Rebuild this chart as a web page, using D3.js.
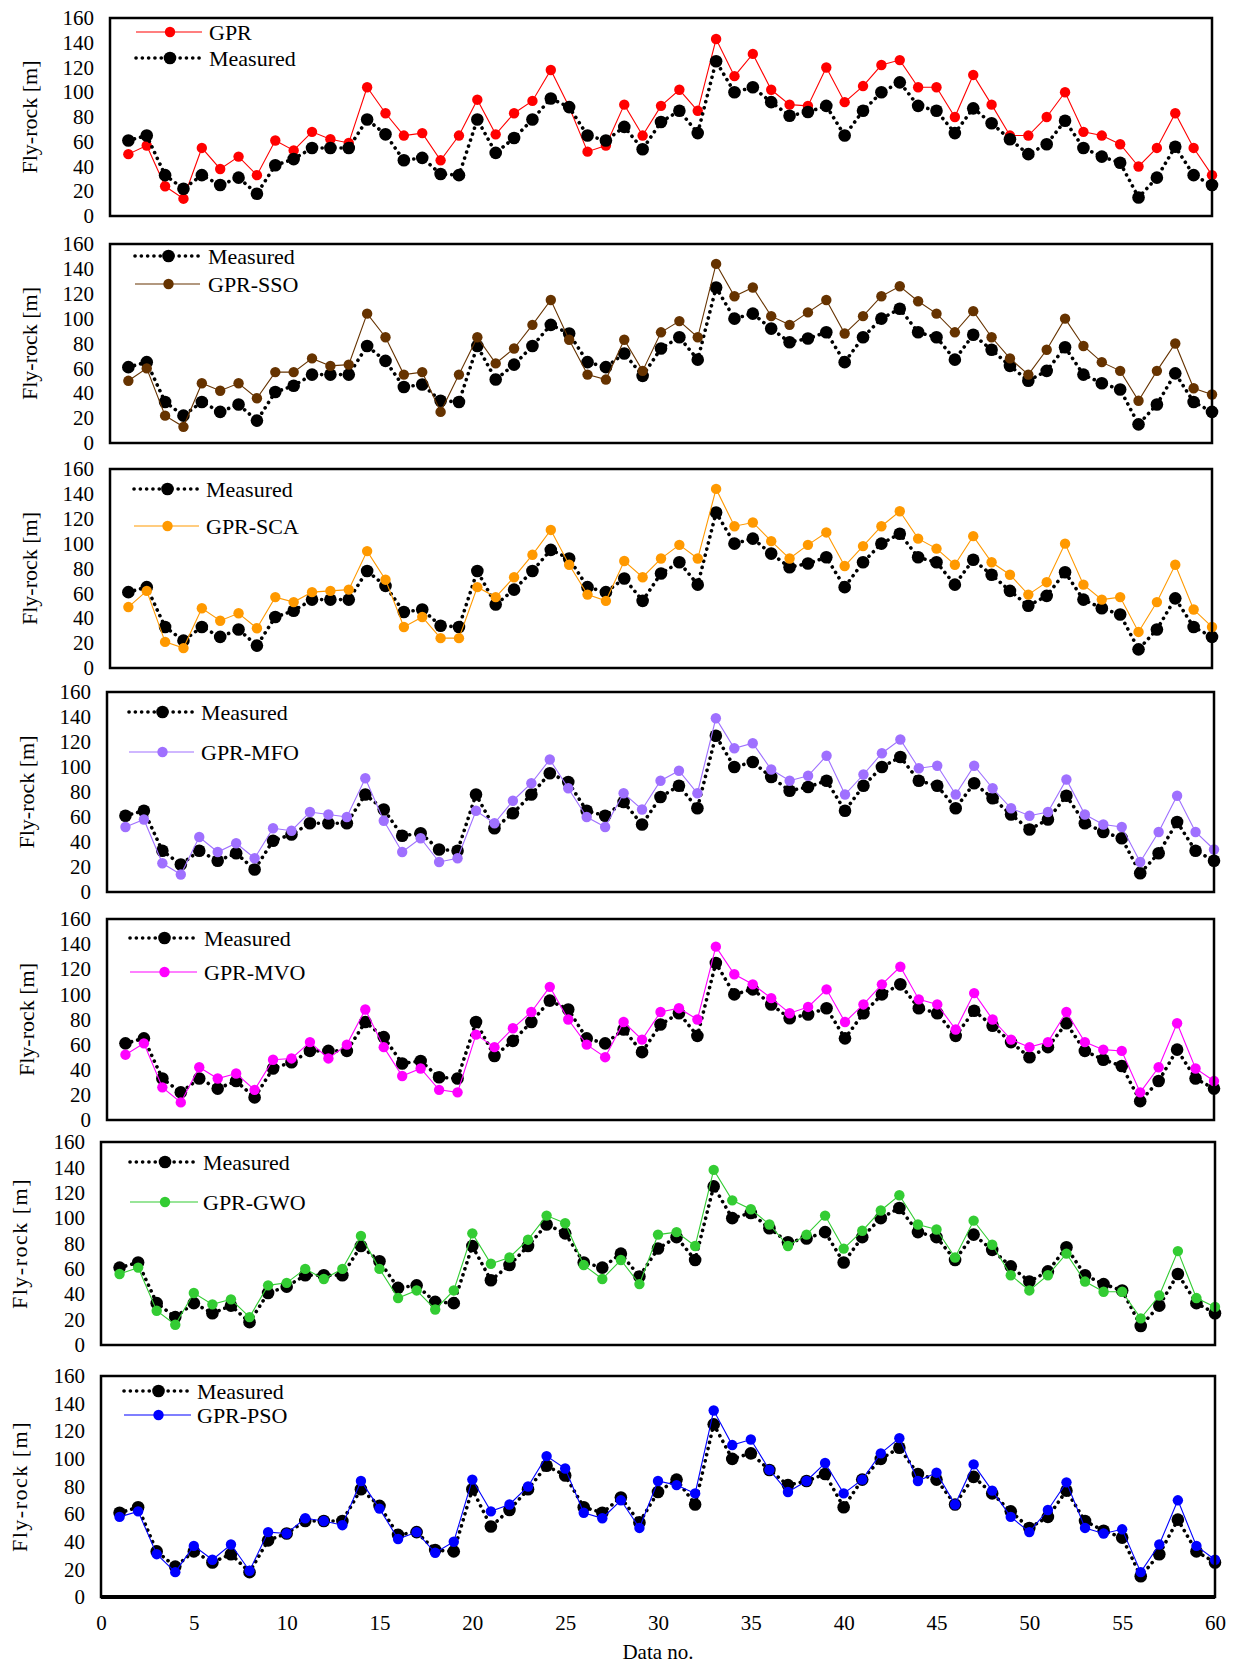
<!DOCTYPE html>
<html lang="en">

<head>
    <meta charset="utf-8">
    <title>Fly-rock: measured vs GPR models</title>
    <script type="text/javascript" src="https://cdn.jsdelivr.net/npm/d3@7/dist/d3.min.js"></script>
    <style type="text/css">
    body {
        margin: 0;
        background: #fff;
    }

    text {
        font-family: "Liberation Serif", "Times New Roman", serif;
        fill: #000;
    }

    .box {
        fill: none;
        stroke: #000;
        stroke-width: 2.5;
    }

    .measured-line {
        fill: none;
        stroke: #000;
        stroke-width: 3.6;
        stroke-linecap: round;
        stroke-dasharray: 0.1 6.2;
    }

    .model-line {
        fill: none;
        stroke-width: 1.1;
    }
    </style>
</head>

<body>
    <script type="text/javascript">
    //data
    var measured = [61, 65, 33, 22, 33, 25, 31, 18, 41, 46, 55, 55, 55, 78, 66, 45, 47, 34, 33, 78,
        51, 63, 78, 95, 88, 65, 61, 72, 54, 76, 85, 67, 125, 100, 104, 92, 81, 84, 89, 65,
        85, 100, 108, 89, 85, 67, 87, 75, 62, 50, 58, 77, 55, 48, 43, 15, 31, 56, 33, 25];

    var gpr = [50, 57, 24, 14, 55, 38, 48, 33, 61, 53, 68, 62, 59, 104, 83, 65, 67, 45, 65, 94,
        66, 83, 93, 118, 88, 52, 57, 90, 65, 89, 102, 85, 143, 113, 131, 102, 90, 89, 120, 92,
        105, 122, 126, 104, 104, 80, 114, 90, 65, 65, 80, 100, 68, 65, 58, 40, 55, 83, 55, 33];

    var gprSso = [50, 60, 22, 13, 48, 42, 48, 36, 57, 57, 68, 62, 63, 104, 85, 55, 57, 25, 55, 85,
        64, 76, 95, 115, 83, 55, 51, 83, 58, 89, 98, 85, 144, 118, 125, 102, 95, 105, 115, 88,
        102, 118, 126, 114, 104, 89, 106, 85, 68, 55, 75, 100, 78, 65, 58, 34, 58, 80, 44, 39];

    var gprSca = [49, 62, 21, 16, 48, 38, 44, 32, 57, 53, 61, 62, 63, 94, 71, 33, 41, 24, 24, 65,
        57, 73, 91, 111, 83, 59, 54, 86, 73, 88, 99, 88, 144, 114, 117, 102, 88, 99, 109, 82,
        98, 114, 126, 104, 96, 83, 106, 85, 75, 59, 69, 100, 67, 55, 57, 29, 53, 83, 47, 33];

    var gprMfo = [52, 58, 23, 14, 44, 32, 39, 27, 51, 49, 64, 62, 60, 91, 57, 32, 43, 24, 27, 65,
        55, 73, 87, 106, 83, 60, 52, 79, 66, 89, 97, 79, 139, 115, 119, 98, 89, 93, 109, 78,
        94, 111, 122, 99, 101, 78, 101, 83, 67, 61, 64, 90, 62, 54, 52, 24, 48, 77, 48, 34];

    var gprMvo = [52, 61, 26, 14, 42, 33, 37, 24, 48, 49, 62, 49, 60, 88, 58, 35, 41, 24, 22, 68,
        58, 73, 86, 106, 80, 60, 50, 78, 64, 86, 89, 80, 138, 116, 108, 97, 85, 90, 104, 78,
        92, 108, 122, 96, 92, 72, 101, 80, 64, 58, 62, 86, 62, 56, 55, 22, 42, 77, 41, 31];

    var gprGwo = [56, 61, 27, 16, 41, 32, 36, 22, 47, 49, 60, 52, 60, 86, 60, 37, 43, 28, 43, 88,
        64, 69, 83, 102, 96, 63, 52, 67, 48, 87, 89, 78, 138, 114, 107, 95, 78, 87, 102, 76,
        90, 106, 118, 95, 91, 69, 98, 79, 55, 43, 55, 72, 50, 42, 42, 21, 39, 74, 37, 30];

    var gprPso = [58, 62, 31, 18, 37, 27, 38, 19, 47, 46, 57, 55, 52, 84, 64, 42, 47, 32, 40, 85,
        62, 67, 80, 102, 93, 61, 57, 70, 50, 84, 81, 75, 135, 110, 114, 92, 76, 84, 97, 75,
        85, 104, 115, 84, 90, 67, 96, 77, 58, 47, 63, 83, 50, 46, 49, 18, 38, 70, 37, 27];

    var modelNames = ['GPR', 'GPR-SSO', 'GPR-SCA', 'GPR-MFO', 'GPR-MVO', 'GPR-GWO', 'GPR-PSO'];
    var modelSeries = [gpr, gprSso, gprSca, gprMfo, gprMvo, gprGwo, gprPso];
    var yTicks = [0, 20, 40, 60, 80, 100, 120, 140, 160];
    var xTicks = [0, 5, 10, 15, 20, 25, 30, 35, 40, 45, 50, 55, 60];

    //panel layout (pixels)
    var colors = ['#ff0000', '#663300', '#ff9900', '#9f70ff', '#ff00ff', '#33cc33', '#0000ff'];
    var boxes = [
        { l: 110, r: 1212, t: 18, b: 216, ty: 29, lg: [32, 58], lx: [136, 202, 209] },
        { l: 110, r: 1212, t: 244, b: 443, ty: 29, lg: [284, 256], lx: [135, 200, 208] },
        { l: 110, r: 1212, t: 469, b: 668, ty: 29, lg: [526, 489], lx: [134, 199, 206] },
        { l: 107, r: 1214, t: 692, b: 892, ty: 26, lg: [752, 712], lx: [129, 194, 201] },
        { l: 107, r: 1214, t: 919, b: 1120, ty: 26, lg: [972, 938], lx: [130, 197, 204] },
        { l: 101, r: 1215, t: 1142, b: 1345, ty: 19, lg: [1202, 1162], lx: [130, 198, 203] },
        { l: 101, r: 1215, t: 1376, b: 1597, ty: 19, lg: [1415, 1391], lx: [124, 191, 197] }
    ];

    var svg = d3.select('body')
        .append('svg')
        .attr('width', 1234)
        .attr('height', 1669);

    boxes.forEach(function(bx, p) {
        var x = d3.scaleLinear().domain([0, 60]).range([bx.l, bx.r]);
        var y = d3.scaleLinear().domain([0, 160]).range([bx.b, bx.t]);
        var g = svg.append('g');

        //left axis labels only
        var yAxis = d3.axisLeft(y).tickValues(yTicks).tickSize(0).tickPadding(16);
        g.append('g')
            .attr('transform', 'translate(' + bx.l + ',0)')
            .call(yAxis)
            .call(function(a) {
                a.select('.domain').remove();
                a.selectAll('text')
                    .attr('font-size', 21)
                    .attr('font-family', '"Liberation Serif", serif');
            });

        g.append('text')
            .attr('transform', 'translate(' + bx.ty + ',' + ((bx.t + bx.b) / 2) + ') rotate(-90)')
            .attr('text-anchor', 'middle')
            .attr('dy', '0.35em')
            .attr('font-size', 22)
            .attr('letter-spacing', p > 4 ? 1.5 : 0)
            .text('Fly-rock [m]');

        var line = d3.line()
            .x(function(d, i) { return x(i + 1); })
            .y(function(d) { return y(d); });

        function drawMeasured() {
            g.append('path')
                .datum(measured)
                .attr('class', 'measured-line')
                .attr('d', line);
            g.selectAll(null)
                .data(measured)
                .enter()
                .append('circle')
                .attr('cx', function(d, i) { return x(i + 1); })
                .attr('cy', function(d) { return y(d); })
                .attr('r', 6.3)
                .attr('fill', '#000');
        }

        function drawModel() {
            g.append('path')
                .datum(modelSeries[p])
                .attr('class', 'model-line')
                .attr('stroke', colors[p])
                .attr('d', line);
            g.selectAll(null)
                .data(modelSeries[p])
                .enter()
                .append('circle')
                .attr('cx', function(d, i) { return x(i + 1); })
                .attr('cy', function(d) { return y(d); })
                .attr('r', 5.2)
                .attr('fill', colors[p]);
        }

        if (p === 0) {
            drawModel();
            drawMeasured();
        } else {
            drawMeasured();
            drawModel();
        }

        g.append('rect')
            .attr('class', 'box')
            .attr('x', bx.l)
            .attr('y', bx.t)
            .attr('width', bx.r - bx.l)
            .attr('height', bx.b - bx.t);

        //legend
        var lx = bx.lx;
        var mid = (lx[0] + lx[1]) / 2 + 1;
        var ly = bx.lg[0]; //model row
        g.append('line')
            .attr('x1', lx[0]).attr('x2', lx[1])
            .attr('y1', ly).attr('y2', ly)
            .attr('stroke', colors[p]).attr('stroke-width', 1.1);
        g.append('circle')
            .attr('cx', mid).attr('cy', ly).attr('r', 5.2)
            .attr('fill', colors[p]);
        g.append('text')
            .attr('x', lx[2]).attr('y', ly).attr('dy', '0.35em')
            .attr('font-size', 22)
            .text(modelNames[p]);

        var my = bx.lg[1]; //measured row
        g.append('line')
            .attr('class', 'measured-line')
            .attr('x1', lx[0]).attr('x2', lx[1])
            .attr('y1', my).attr('y2', my);
        g.append('circle')
            .attr('cx', mid).attr('cy', my).attr('r', 6.3)
            .attr('fill', '#000');
        g.append('text')
            .attr('x', lx[2]).attr('y', my).attr('dy', '0.35em')
            .attr('font-size', 22)
            .text('Measured');

        //x axis only on the last panel
        if (p === boxes.length - 1) {
            var xAxis = d3.axisBottom(x).tickValues(xTicks).tickSize(0).tickPadding(18);
            g.append('g')
                .attr('transform', 'translate(0,' + bx.b + ')')
                .call(xAxis)
                .call(function(a) {
                    a.select('.domain').remove();
                    a.selectAll('text')
                        .attr('font-size', 21)
                        .attr('font-family', '"Liberation Serif", serif');
                });
            g.append('line')
                .attr('x1', bx.l).attr('x2', bx.r)
                .attr('y1', bx.b).attr('y2', bx.b)
                .attr('stroke', '#000').attr('stroke-width', 4);
            g.append('text')
                .attr('x', (bx.l + bx.r) / 2)
                .attr('y', 1652)
                .attr('dy', '0.35em')
                .attr('text-anchor', 'middle')
                .attr('font-size', 21)
                .text('Data no.');
        }
    });
    </script>
</body>

</html>
